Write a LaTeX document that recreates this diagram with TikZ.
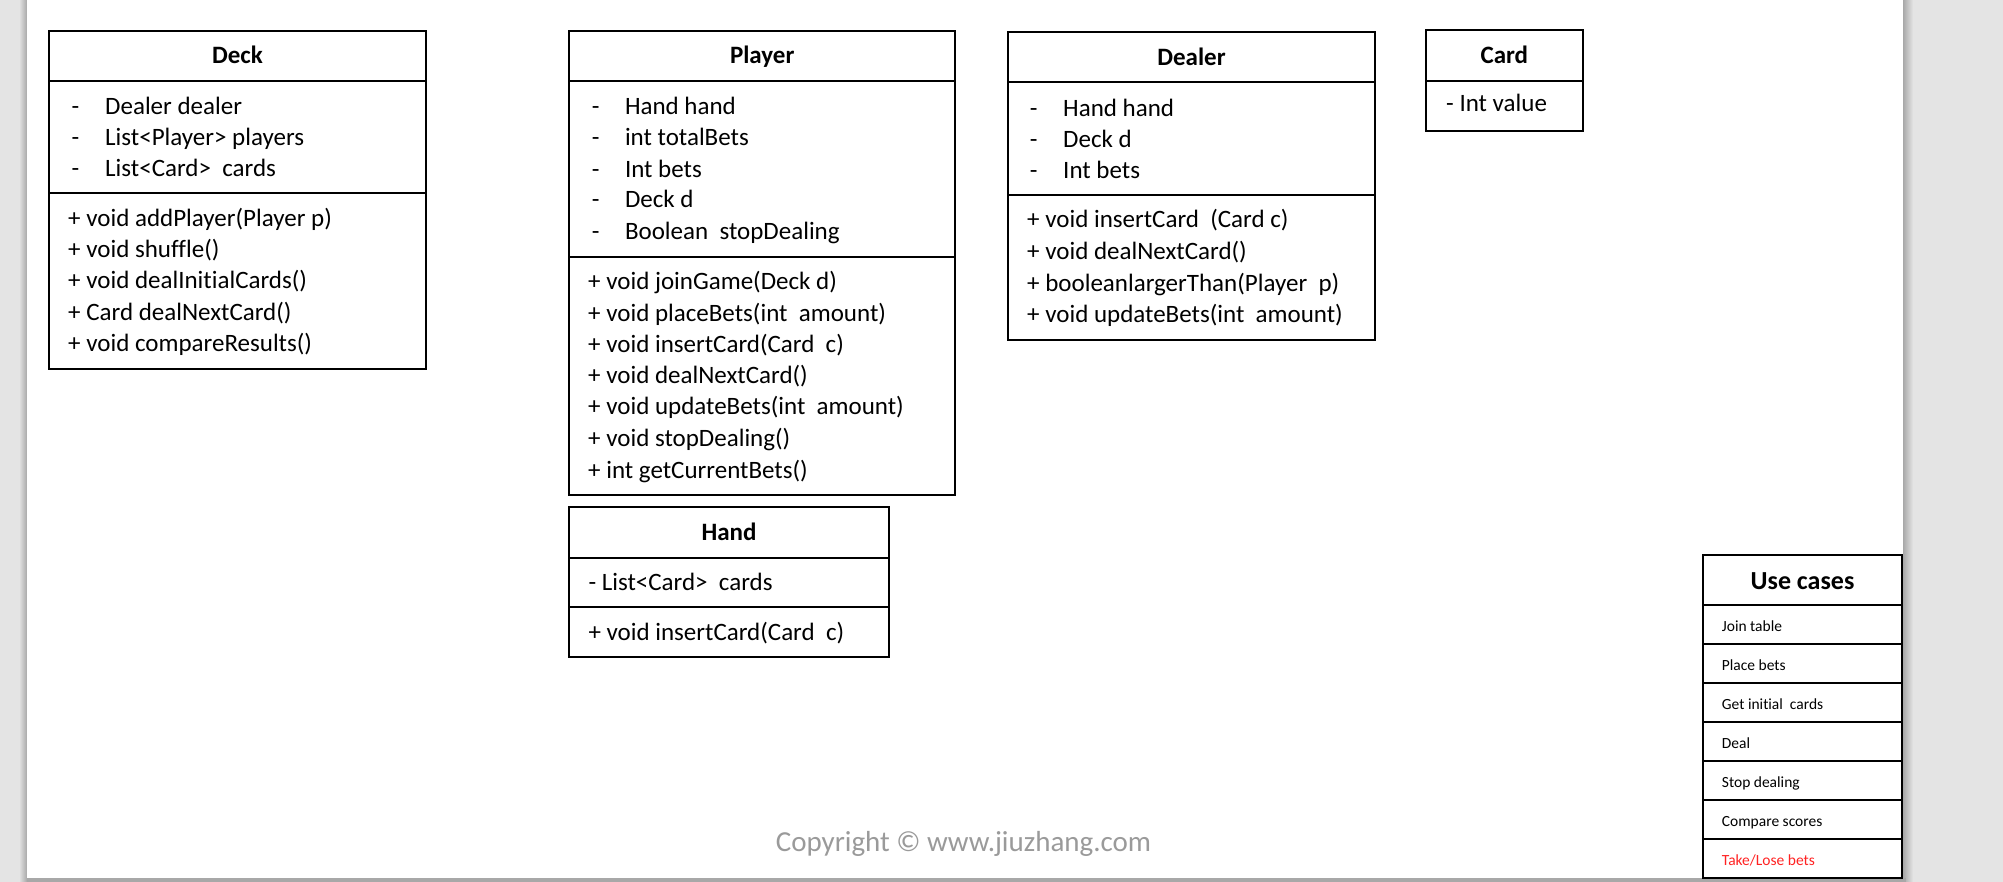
\documentclass[tikz,border=0pt]{standalone}
\usepackage{fontspec}
\setmainfont[Ligatures=NoCommon]{Carlito}
\definecolor{pagegray}{HTML}{E4E4E4}
\definecolor{shadowgray}{HTML}{A8A8A8}
\definecolor{copygray}{HTML}{9A9A9A}
\definecolor{redtxt}{HTML}{FF2222}
\begin{document}
\begin{tikzpicture}[x=1pt,y=-1pt,
  box/.style={draw=black,line width=2pt},
  txt/.style={anchor=base west,inner sep=0pt,font=\fontsize{25}{30}\selectfont},
  hdr/.style={anchor=base,inner sep=0pt,font=\fontsize{25}{30}\selectfont\bfseries},
  uc/.style={anchor=base west,inner sep=0pt,font=\fontsize{15.5}{18}\selectfont,text=black},
]
\useasboundingbox (0,0) rectangle (2003,882);
% page and shadow
\fill[pagegray] (0,0) rectangle (2003,882);
\shade[left color=pagegray,right color=shadowgray] (19,0) rectangle (27,882);
\shade[left color=shadowgray,right color=pagegray] (1903,0) rectangle (1913,882);
\fill[shadowgray] (27,878) rectangle (1906,882);
\fill[white] (27,0) rectangle (1903,878);

% ---------- Deck ----------
\draw[box] (49.3,30.7) rectangle (425.7,369);
\draw[box] (49.3,80.7) -- (425.7,80.7);
\draw[box] (49.3,193.3) -- (425.7,193.3);
\node[hdr] (deckT) at (237.5,63.3) {Deck};
\node[txt] (deckd1) at (71.4,114.5) {-};
\node[txt] (decka1) at (105,114.5) {Dealer dealer};
\node[txt] (deckd2) at (71.4,145.5) {-};
\node[txt] (decka2) at (105,145.5) {List<Player> players};
\node[txt] (deckd3) at (71.4,176.3) {-};
\node[txt] (decka3) at (105,176.3) {List<Card>\ \ cards};
\node[txt] (deckm1) at (68,226.3) {+ void addPlayer(Player p)};
\node[txt] (deckm2) at (68,258) {+ void shuffle()};
\node[txt] (deckm3) at (68,289) {+ void dealInitialCards()};
\node[txt] (deckm4) at (68,320.3) {+ Card dealNextCard()};
\node[txt] (deckm5) at (68,351.3) {+ void compareResults()};

% ---------- Player ----------
\draw[box] (569,31) rectangle (955.4,495);
\draw[box] (569,81) -- (955.4,81);
\draw[box] (569,256.7) -- (955.4,256.7);
\node[hdr] (playerT) at (762.2,63.5) {Player};
\node[txt] (pd1) at (591.7,114.7) {-};
\node[txt] (pa1) at (624.8,114.7) {Hand hand};
\node[txt] (pd2) at (591.7,146) {-};
\node[txt] (pa2) at (624.8,146) {int totalBets};
\node[txt] (pd3) at (591.7,177.3) {-};
\node[txt] (pa3) at (624.8,177.3) {Int bets};
\node[txt] (pd4) at (591.7,208) {-};
\node[txt] (pa4) at (624.8,208) {Deck d};
\node[txt] (pd5) at (591.7,239.7) {-};
\node[txt] (pa5) at (624.8,239.7) {Boolean\ \ stopDealing};
\node[txt] (pm1) at (588,289.7) {+ void joinGame(Deck d)};
\node[txt] (pm2) at (588,321.3) {+ void placeBets(int\ \ amount)};
\node[txt] (pm3) at (588,352.3) {+ void insertCard(Card\ \ c)};
\node[txt] (pm4) at (588,383.7) {+ void dealNextCard()};
\node[txt] (pm5) at (588,414.7) {+ void updateBets(int\ \ amount)};
\node[txt] (pm6) at (588,446.3) {+ void stopDealing()};
\node[txt] (pm7) at (588,478) {+ int getCurrentBets()};

% ---------- Hand ----------
\draw[box] (569,506.7) rectangle (889,657.3);
\draw[box] (569,557.7) -- (889,557.7);
\draw[box] (569,607) -- (889,607);
\node[hdr] (handT) at (729,540) {Hand};
\node[txt] (ha1) at (588.3,590) {- List<Card>\ \ cards};
\node[txt] (hm1) at (588.3,640) {+ void insertCard(Card\ \ c)};

% ---------- Dealer ----------
\draw[box] (1008,32.3) rectangle (1375,340);
\draw[box] (1008,82.3) -- (1375,82.3);
\draw[box] (1008,195.3) -- (1375,195.3);
\node[hdr] (dealerT) at (1191.5,65.5) {Dealer};
\node[txt] (dd1) at (1029.7,116.3) {-};
\node[txt] (da1) at (1063,116.3) {Hand hand};
\node[txt] (dd2) at (1029.7,147.3) {-};
\node[txt] (da2) at (1063,147.3) {Deck d};
\node[txt] (dd3) at (1029.7,178.7) {-};
\node[txt] (da3) at (1063,178.7) {Int bets};
\node[txt] (dm1) at (1027,228) {+ void insertCard\ \ (Card c)};
\node[txt] (dm2) at (1027,259.7) {+ void dealNextCard()};
\node[txt] (dm3) at (1027,291.3) {+ booleanlargerThan(Player\ \ p)};
\node[txt] (dm4) at (1027,323) {+ void updateBets(int\ \ amount)};

% ---------- Card ----------
\draw[box] (1426,30.3) rectangle (1582.7,130.7);
\draw[box] (1426,81) -- (1582.7,81);
\node[hdr] (cardT) at (1504.3,63.3) {Card};
\node[txt] (ca1) at (1446,111.7) {- Int value};

% ---------- Use cases ----------
\draw[box] (1703.3,555) rectangle (1901.7,878.3);
\foreach \yy in {605.3,644.3,683.3,722.3,761.3,800.3,839.3}
  \draw[box] (1703.3,\yy) -- (1901.7,\yy);
\node[anchor=base,inner sep=0pt,font=\fontsize{26}{30}\selectfont\bfseries] (ucT) at (1802.5,589) {Use cases};
\node[uc] (uc1) at (1721.7,631) {Join table};
\node[uc] (uc2) at (1721.7,670) {Place bets};
\node[uc] (uc3) at (1721.7,709) {Get initial\ \ cards};
\node[uc] (uc4) at (1721.7,748) {Deal};
\node[uc] (uc5) at (1721.7,787) {Stop dealing};
\node[uc] (uc6) at (1721.7,826) {Compare scores};
\node[uc,text=redtxt] (uc7) at (1721.7,865) {Take/Lose bets};

% ---------- Copyright ----------
\node[anchor=base,inner sep=0pt,font=\fontsize{29}{34}\selectfont,text=copygray] (copy) at (963.5,851) {Copyright © www.jiuzhang.com};
\end{tikzpicture}
\end{document}
